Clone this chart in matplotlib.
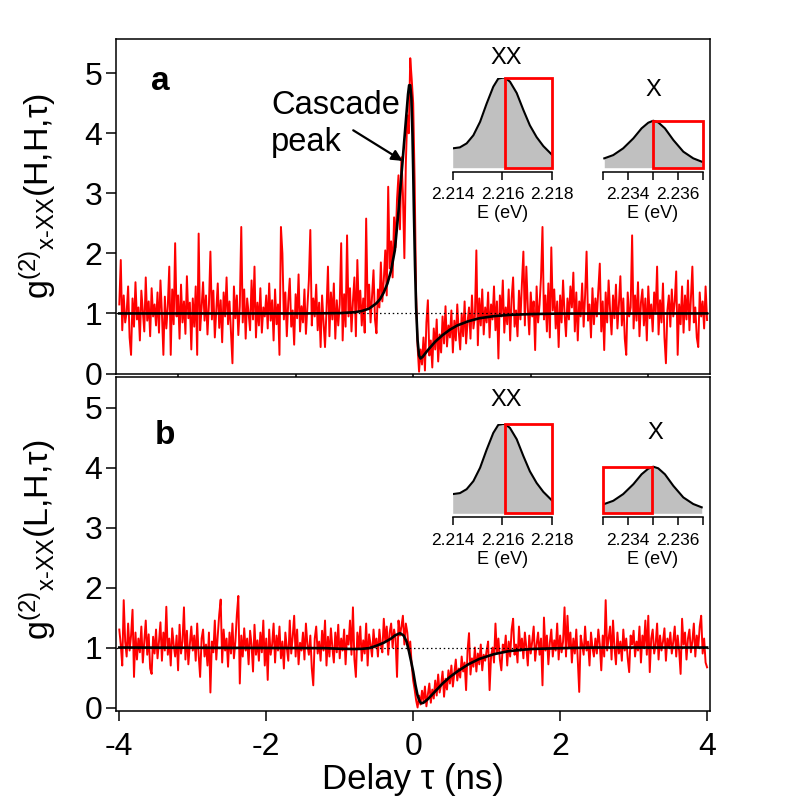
import matplotlib
matplotlib.use('Agg')
import matplotlib.pyplot as plt
from matplotlib.patches import Rectangle
import numpy as np

plt.rcParams['font.family'] = ['Liberation Sans', 'DejaVu Sans']
plt.rcParams['mathtext.fontset'] = 'custom'
plt.rcParams['mathtext.rm'] = 'Liberation Sans'
plt.rcParams['mathtext.it'] = 'Liberation Sans:italic'

# ---------------- data ----------------
g_top = [
 1.15, 1.89, 0.72, 1.30, 0.85, 1.02, 1.45, 0.60, 0.31, 1.25, 0.78, 1.52, 0.90, 1.10, 0.55, 1.38, 1.05, 0.70, 1.60, 0.88, 1.20, 0.62, 1.42, 0.95, 1.15,
 0.80, 1.35, 0.68, 1.55, 1.00, 0.31, 1.28, 0.75, 1.12, 1.78, 0.31, 1.40, 0.82, 2.17, 0.95, 1.30, 0.58, 1.48, 0.85, 1.20, 0.66, 1.62, 0.92, 1.18, 0.40,
 1.25, 0.78, 1.45, 0.31, 2.33, 0.72, 1.10, 1.52, 0.88, 1.30, 0.65, 1.15, 2.03, 0.90, 1.38, 0.60, 1.05, 1.50, 0.76, 1.22, 0.52, 1.35, 0.95, 1.60, 0.82,
 1.20, 0.70, 0.17, 1.45, 0.92, 1.30, 0.64, 1.12, 2.44, 0.85, 1.40, 0.58, 1.25, 1.00, 0.72, 1.55, 0.90, 1.78, 0.60, 1.18, 0.80, 1.42, 0.68, 1.10, 0.95,
 1.30, 0.75, 1.50, 0.88, 1.22, 0.55, 1.40, 0.82, 1.15, 0.31, 2.44, 2.00, 0.90, 1.35, 0.62, 1.20, 1.58, 0.78, 1.05, 0.48, 1.32, 0.92, 1.65, 0.70, 1.12,
 0.85, 1.40, 0.66, 1.10, 1.55, 2.39, 0.80, 1.25, 0.95, 1.48, 0.72, 1.18, 0.44, 1.30, 0.85, 0.44, 1.05, 1.78, 0.62, 1.35, 0.90, 1.50, 0.58, 1.22, 0.80,
 1.15, 2.17, 0.55, 1.32, 0.78, 2.30, 0.95, 1.42, 0.70, 1.20, 1.60, 0.62, 1.89, 1.05, 1.38, 0.80, 1.25, 0.68, 2.58, 1.10, 1.48, 0.85, 1.30, 1.72, 0.90,
 0.67, 1.40, 1.10, 1.85, 1.20, 1.55, 2.05, 1.30, 3.11, 1.75, 2.20, 1.60, 2.60, 2.10, 2.90, 3.30, 2.40, 3.60, 3.00, 1.92, 3.50, 4.30, 4.00, 5.25, 4.90,
 4.50, 3.20, 1.30, 0.45, 0.03, 0.40, 0.15, 0.60, 0.05, 0.85, 1.22, 0.30, 0.55, 0.10, 0.75, 0.40, 0.90, 0.20, 0.65, 0.35, 0.95, 0.50, 1.12, 0.45, 0.80,
 0.60, 1.05, 0.35, 0.88, 0.55, 1.15, 0.70, 0.40, 1.00, 0.62, 1.20, 0.50, 0.85, 1.10, 0.58, 1.30, 0.75, 0.95, 2.05, 0.47, 1.25, 0.80, 1.40, 0.65, 1.10,
 0.85, 1.35, 0.60, 1.15, 0.90, 1.45, 0.72, 1.20, 0.25, 1.30, 0.95, 1.55, 0.68, 1.10, 0.82, 1.40, 0.55, 1.25, 1.60, 0.78, 1.05, 0.62, 1.38, 0.90, 1.50,
 2.03, 0.80, 1.78, 1.10, 0.65, 1.35, 0.95, 1.20, 0.39, 1.45, 0.85, 1.15, 1.60, 2.44, 0.90, 1.30, 0.70, 1.50, 0.60, 2.10, 1.05, 1.40, 0.75, 1.20, 0.44,
 1.30, 0.85, 1.55, 1.00, 0.62, 1.25, 0.90, 1.45, 1.10, 1.68, 0.70, 1.35, 0.55, 1.20, 0.95, 1.50, 0.78, 1.30, 2.03, 0.88, 1.15, 0.60, 1.42, 0.82, 1.25,
 0.95, 1.40, 1.83, 0.70, 1.20, 0.39, 1.35, 0.85, 1.55, 1.05, 0.65, 1.30, 0.92, 1.48, 0.75, 1.15, 1.62, 0.80, 1.25, 0.58, 0.31, 1.35, 0.95, 1.10, 2.30,
 0.75, 1.30, 0.88, 1.52, 0.62, 1.18, 1.40, 0.80, 1.25, 0.55, 1.45, 0.92, 1.15, 0.70, 1.35, 1.00, 1.78, 0.65, 1.22, 0.85, 1.50, 0.60, 0.17, 1.05, 1.30,
 0.78, 1.40, 0.95, 1.20, 1.70, 0.31, 1.15, 0.82, 1.45, 0.68, 1.30, 0.90, 1.55, 0.72, 1.25, 1.78, 0.85, 1.10, 0.60, 0.44, 1.35, 0.95, 1.20, 0.75, 1.45,
 0.89]

g_bot = [
 1.30, 1.05, 0.70, 1.79, 1.10, 0.85, 1.40, 0.95, 1.20, 1.63, 0.51, 1.25, 0.80, 1.15, 0.92, 1.35, 0.75, 1.10, 1.45, 0.88, 1.22, 0.65, 0.56, 1.18, 0.90,
 1.30, 0.82, 1.10, 1.42, 0.78, 1.25, 0.95, 1.68, 0.88, 1.15, 0.70, 1.32, 1.05, 0.85, 1.20, 0.62, 1.38, 0.90, 1.10, 1.67, 0.80, 1.28, 0.72, 1.05, 1.35,
 0.95, 1.20, 0.78, 1.40, 0.88, 0.51, 1.15, 1.30, 0.85, 1.05, 0.70, 1.25, 0.25, 1.10, 0.92, 1.45, 0.80, 1.20, 1.55, 1.80, 0.75, 1.30, 0.95, 1.15, 0.68,
 1.25, 0.90, 1.40, 0.82, 1.10, 1.55, 1.86, 0.40, 1.20, 0.85, 1.32, 0.95, 1.15, 0.72, 1.28, 1.05, 0.60, 1.38, 0.88, 1.12, 0.78, 1.25, 0.92, 1.45, 0.70,
 1.15, 0.46, 1.30, 0.88, 1.05, 1.40, 0.75, 1.20, 0.95, 1.35, 0.82, 1.10, 0.65, 1.25, 1.00, 0.78, 1.45, 0.90, 1.18, 1.53, 0.85, 1.30, 0.72, 1.08, 0.95,
 1.25, 0.80, 1.40, 1.05, 0.88, 1.20, 0.65, 0.37, 1.15, 1.35, 0.90, 1.10, 0.78, 1.28, 0.95, 1.45, 0.70, 1.18, 0.85, 1.32, 1.00, 0.75, 1.25, 0.92, 1.38,
 0.82, 1.15, 0.95, 1.30, 0.72, 1.20, 1.05, 1.45, 0.88, 1.67, 0.80, 0.51, 1.25, 0.98, 1.35, 0.78, 1.12, 0.90, 1.40, 0.70, 1.22, 1.05, 0.85, 1.30, 1.00,
 1.15, 0.85, 1.30, 1.05, 0.92, 1.48, 1.10, 1.35, 0.88, 1.25, 1.40, 1.00, 1.30, 1.15, 0.51, 1.45, 1.20, 1.35, 1.53, 1.05, 1.40, 1.25, 0.95, 1.10, 0.70,
 0.45, 0.30, 0.12, 0.00, 0.20, 0.05, 0.28, 0.10, 0.35, 0.02, 0.22, 0.40, 0.08, 0.30, 0.15, 0.45, 0.20, 0.55, 0.25, 0.38, 0.60, 0.18, 0.48, 0.30, 0.62,
 0.40, 0.70, 0.35, 0.58, 0.80, 0.45, 0.65, 0.50, 0.85, 0.60, 0.75, 0.29, 0.95, 1.24, 0.55, 0.82, 0.68, 1.00, 0.60, 0.90, 0.72, 1.05, 0.62, 0.88, 0.78,
 0.95, 1.10, 0.29, 0.85, 1.00, 0.75, 1.40, 0.90, 1.15, 0.80, 0.62, 1.05, 0.92, 1.20, 0.70, 1.10, 0.85, 1.30, 1.48, 0.88, 1.05, 0.75, 1.35, 0.95, 1.15,
 0.82, 1.25, 1.00, 0.70, 1.20, 0.90, 1.10, 1.35, 0.78, 1.05, 1.25, 0.88, 1.15, 0.37, 1.50, 0.95, 1.20, 0.72, 1.08, 1.30, 0.85, 1.12, 0.95, 1.40, 0.80,
 1.20, 0.92, 1.10, 1.67, 0.85, 1.53, 1.00, 1.25, 0.75, 1.15, 0.90, 1.30, 0.80, 0.26, 1.20, 1.05, 0.88, 1.35, 0.95, 1.10, 0.70, 1.25, 1.00, 0.85, 1.15,
 0.90, 1.30, 1.05, 0.62, 1.20, 0.85, 1.79, 0.95, 1.15, 1.35, 0.80, 1.45, 1.00, 0.72, 1.25, 0.90, 1.10, 0.78, 1.30, 0.95, 1.15, 0.82, 0.59, 1.20, 1.05,
 1.28, 0.85, 1.10, 0.95, 1.35, 0.75, 1.20, 1.00, 1.45, 0.88, 1.53, 0.59, 1.15, 1.30, 0.90, 1.05, 1.40, 0.80, 1.20, 0.95, 1.10, 1.32, 0.78, 1.15, 1.00,
 1.25, 0.90, 1.10, 1.35, 0.85, 1.20, 0.95, 0.56, 1.48, 1.05, 1.25, 0.80, 1.15, 1.30, 0.92, 1.10, 1.40, 0.85, 1.20, 1.00, 1.35, 1.53, 0.90, 1.15, 0.75,
 0.67]

fit_top_t = [-4.0, -1.5, -1.0, -0.8, -0.7, -0.6, -0.5, -0.45, -0.4, -0.35, -0.3, -0.25, -0.2, -0.16,
             -0.12, -0.09, -0.07, -0.055, -0.04, -0.025, -0.01, 0.0, 0.01, 0.025, 0.04, 0.06, 0.08,
             0.1, 0.13, 0.2, 0.3, 0.4, 0.5, 0.6, 0.75, 0.9, 1.1, 1.3, 1.6, 2.0, 4.0]
fit_top_g = [1.0, 1.0, 1.005, 1.02, 1.04, 1.08, 1.17, 1.24, 1.35, 1.5, 1.72, 2.05, 2.7, 3.3,
             3.9, 4.35, 4.65, 4.8, 4.8, 4.6, 4.0, 3.4, 2.7, 1.8, 1.1, 0.55, 0.3,
             0.25, 0.28, 0.39, 0.53, 0.64, 0.73, 0.8, 0.87, 0.92, 0.955, 0.975, 0.99, 0.998, 1.0]

fit_bot_t = [-4.0, -1.2, -1.0, -0.8, -0.7, -0.6, -0.5, -0.4, -0.3, -0.25, -0.18, -0.13, -0.09,
             -0.06, -0.03, 0.0, 0.03, 0.06, 0.09, 0.11, 0.14, 0.2, 0.3, 0.4, 0.5, 0.6, 0.75, 0.9,
             1.1, 1.3, 1.6, 2.0, 2.5, 4.0]
fit_bot_g = [1.0, 0.99, 0.98, 0.975, 0.978, 0.99, 1.03, 1.08, 1.15, 1.2, 1.24, 1.2, 1.1,
             0.95, 0.78, 0.6, 0.38, 0.2, 0.1, 0.07, 0.08, 0.14, 0.27, 0.4, 0.51, 0.6, 0.72, 0.81,
             0.89, 0.94, 0.975, 0.99, 1.0, 1.0]

xx_E = [2.214, 2.21429, 2.21456, 2.21483, 2.2151, 2.21536, 2.21563, 2.21583, 2.21601, 2.2161,
        2.2163, 2.21657, 2.21684, 2.2171, 2.21737, 2.21764, 2.218]
xx_I = [0.215, 0.226, 0.27, 0.36, 0.51, 0.71, 0.90, 0.99, 1.0, 1.0,
        0.956, 0.83, 0.64, 0.47, 0.34, 0.24, 0.14]
x_E = [2.23304, 2.2334, 2.2338, 2.23421, 2.23454, 2.23481, 2.23501, 2.23521, 2.23548, 2.23582,
       2.23622, 2.23662, 2.23696]
x_I = [0.104, 0.14, 0.215, 0.326, 0.437, 0.50, 0.522, 0.504, 0.437, 0.307, 0.178, 0.104, 0.067]

# filter windows (E start, E end, height)
win_top_xx = (2.2161, 2.218, 1.0)
win_top_x = (2.235, 2.237, 0.522)
win_bot_xx = (2.2161, 2.218, 1.0)
win_bot_x = (2.233, 2.23497, 0.522)

xx_ticks = [2.214, 2.216, 2.218]
xx_ticklabels = ['2.214', '2.216', '2.218']
x_ticks = [2.233, 2.234, 2.235, 2.236, 2.237]
x_ticklabels = ['', '2.234', '', '2.236', '']

# ---------------- figure ----------------
W, H = 795, 809
fig = plt.figure(figsize=(W / 100, H / 100), dpi=100)

def frect(l, t, r, b):
    return [l / W, 1 - b / H, (r - l) / W, (b - t) / H]

def ftext(x, y, s, **kw):
    fig.text(x / W, 1 - y / H, s, transform=fig.transFigure, **kw)

ax1 = fig.add_axes(frect(116, 39, 710, 373.5))
ax2 = fig.add_axes(frect(116, 377, 710, 711))

tau_top = np.linspace(-4, 4, len(g_top))
tau_bot = np.linspace(-4, 4, len(g_bot))

for ax, tau, g, ft, fg in [(ax1, tau_top, g_top, fit_top_t, fit_top_g),
                           (ax2, tau_bot, g_bot, fit_bot_t, fit_bot_g)]:
    ax.plot(tau, g, color='#ff0000', lw=1.4, zorder=2)
    ax.axhline(1, color='black', ls=(0, (1.2, 2.2)), lw=0.9, zorder=3)
    ax.plot(ft, fg, color='black', lw=1.9, zorder=4)
    ax.set_xlim(-4.045, 4.04)
    ax.set_yticks([0, 1, 2, 3, 4, 5])
    ax.tick_params(direction='out', length=7, width=1.1, labelsize=23, pad=3,
                   top=False, right=False)
    ax.tick_params(axis='x', pad=8)
    for s in ax.spines.values():
        s.set_linewidth(1.1)

ax1.set_ylim(0, 5.57)
ax1.set_xticks([-3.2, -1.6, 0, 1.6, 3.2])
ax1.set_xticklabels([])
ax2.set_ylim(-0.058, 5.51)
ax2.set_xticks([-4, -2, 0, 2, 4])
ax2.set_xticklabels(['-4', '-2', '0', '2', '4'])

# panel labels
ftext(160, 81, 'a', fontsize=24, fontweight='bold', ha='center', va='center')
ftext(165, 435, 'b', fontsize=24, fontweight='bold', ha='center', va='center')

# cascade annotation
ftext(271, 106, 'Cascade', fontsize=23.5, ha='left', va='center')
ftext(271, 143, 'peak', fontsize=23.5, ha='left', va='center')
ax1.annotate('', xy=(-0.144, 3.54), xytext=(-0.816, 4.05),
             arrowprops=dict(arrowstyle='-|>', color='black', lw=1.6, mutation_scale=16,
                             shrinkA=0, shrinkB=0))

# axis labels
ftext(38, 196, r'g$^{\mathregular{(2)}}$$_{\mathregular{x\text{-}XX}}$(H,H,τ)', fontsize=24.5,
      rotation=90, ha='center', va='center')
ftext(38, 540, r'g$^{\mathregular{(2)}}$$_{\mathregular{x\text{-}XX}}$(L,H,τ)', fontsize=24.5,
      rotation=90, ha='center', va='center')
ftext(413, 779, 'Delay τ (ns)', fontsize=25, ha='center', va='center')

# insets
def make_inset(l, r, peak_y, base_y, E, I, win, xlim, ticks, tlabels, label, lab_xy):
    ins = fig.add_axes(frect(l, peak_y, r, base_y))
    ins.fill_between(E, 0, I, color='#c0c0c0', lw=0, zorder=1)
    ins.plot(E, I, color='black', lw=1.5, zorder=2)
    ins.add_patch(Rectangle((win[0], 0), win[1] - win[0], win[2], fill=False,
                            ec='#ff0000', lw=2.0, clip_on=False, zorder=3))
    ins.set_xlim(*xlim)
    ins.set_ylim(0, 1)
    ins.patch.set_alpha(0)
    for k in ['top', 'left', 'right']:
        ins.spines[k].set_visible(False)
    ins.spines['bottom'].set_position(('outward', 3))
    ins.spines['bottom'].set_linewidth(1.1)
    ins.set_yticks([])
    ins.set_xticks(ticks)
    ins.set_xticklabels(tlabels)
    ins.tick_params(axis='x', direction='out', length=6, width=1.1, labelsize=12.5, pad=5)
    ins.set_xlabel('E (eV)', fontsize=13, labelpad=2)
    ftext(lab_xy[0], lab_xy[1], label, fontsize=17, ha='center', va='center')
    return ins

make_inset(452.7, 552.3, 77.7, 167.7, xx_E, xx_I, win_top_xx, (2.214, 2.218),
           xx_ticks, xx_ticklabels, 'XX', (506.7, 58))
make_inset(603.3, 702.7, 77.7, 167.7, x_E, x_I, win_top_x, (2.233, 2.237),
           x_ticks, x_ticklabels, 'X', (653, 90))
make_inset(452.7, 552.3, 424, 513.3, xx_E, xx_I, win_bot_xx, (2.214, 2.218),
           xx_ticks, xx_ticklabels, 'XX', (506.7, 400))
make_inset(603.3, 702.7, 424, 513.3, x_E, x_I, win_bot_x, (2.233, 2.237),
           x_ticks, x_ticklabels, 'X', (655, 433))

fig.savefig('out.png', dpi=100)
